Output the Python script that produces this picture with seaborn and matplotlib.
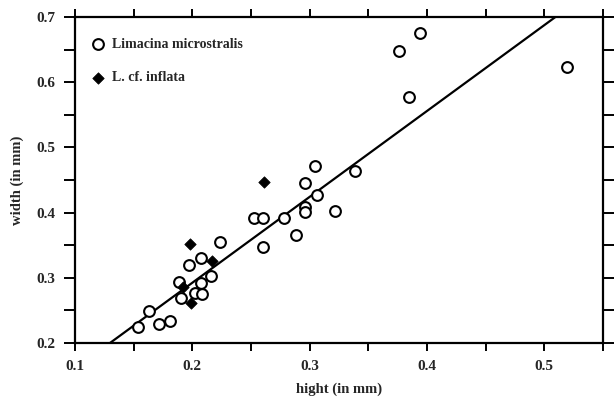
import numpy as np
import pandas as pd
import matplotlib
matplotlib.use("Agg")
import matplotlib.pyplot as plt
import seaborn as sns
from matplotlib.ticker import MultipleLocator

# ---- data ----
lim_h = [0.154, 0.163, 0.172, 0.181, 0.190, 0.189, 0.202, 0.208, 0.207, 0.216,
         0.197, 0.207, 0.224, 0.253, 0.260, 0.260, 0.278, 0.288, 0.296, 0.296,
         0.296, 0.306, 0.305, 0.322, 0.339, 0.376, 0.394, 0.385, 0.519]
lim_w = [0.225, 0.249, 0.229, 0.233, 0.269, 0.294, 0.276, 0.275, 0.292, 0.302,
         0.320, 0.330, 0.355, 0.392, 0.392, 0.348, 0.392, 0.365, 0.408, 0.401,
         0.445, 0.427, 0.471, 0.402, 0.464, 0.648, 0.675, 0.578, 0.623]
inf_h = [0.198, 0.217, 0.192, 0.199, 0.261]
inf_w = [0.352, 0.326, 0.286, 0.262, 0.447]
fit_slope = 1.317
fit_intercept = 0.029
x_ticks = [0.1, 0.2, 0.3, 0.4, 0.5]
y_ticks = [0.2, 0.3, 0.4, 0.5, 0.6, 0.7]
labels = ["Limacina microstralis", "L. cf. inflata"]

sns.set_style("white")
plt.rcParams["font.family"] = ["Liberation Serif", "DejaVu Serif"]
plt.rcParams["font.weight"] = "bold"

fig = plt.figure(figsize=(6.14, 4.0), dpi=100)
ax = fig.add_axes([0.1221, 0.1425, 0.8599, 0.815])

df1 = pd.DataFrame({"h": lim_h, "w": lim_w})
df2 = pd.DataFrame({"h": inf_h, "w": inf_w})

xmin, xmax = 0.1, 0.55
line_x = np.array([xmin, xmax])
df_line = pd.DataFrame({"h": line_x, "w": fit_slope * line_x + fit_intercept})
sns.lineplot(data=df_line, x="h", y="w", ax=ax, color="black", lw=1.6, zorder=1)

sns.scatterplot(data=df1, x="h", y="w", ax=ax, marker="o", s=60,
                facecolor="white", edgecolor="black", linewidth=1.5,
                label=labels[0], zorder=3)
sns.scatterplot(data=df2, x="h", y="w", ax=ax, marker="D", s=34,
                color="black", edgecolor="black", linewidth=0.5,
                label=labels[1], zorder=4)

ax.set_xlim(xmin, xmax)
ax.set_ylim(0.2, 0.7)
ax.set_xticks(x_ticks)
ax.set_yticks(y_ticks)
ax.xaxis.set_minor_locator(MultipleLocator(0.05))
ax.yaxis.set_minor_locator(MultipleLocator(0.05))
ax.set_xticklabels([f"{v:.1f}" for v in x_ticks])
ax.set_yticklabels([f"{v:.1f}" for v in y_ticks])

for s in ax.spines.values():
    s.set_visible(True)
    s.set_color("black")
    s.set_linewidth(1.6)

ax.tick_params(which="both", direction="out", top=True, right=True,
               bottom=True, left=True, color="black", width=1.4,
               labelsize=11, pad=6)
ax.tick_params(which="both", length=6)
ax.tick_params(axis="y", which="both", length=8)
ax.tick_params(axis="y", which="both", right=True, labelright=False)
for lab in ax.get_xticklabels() + ax.get_yticklabels():
    lab.set_fontweight("bold")

ax.set_xlabel("hight (in mm)", fontsize=10.5, fontweight="bold", labelpad=7)
ax.set_ylabel("width (in mm)", fontsize=10.5, fontweight="bold", labelpad=9)

leg = ax.legend(loc="upper left", frameon=False, fontsize=10,
                handletextpad=0.4, labelspacing=1.45, borderaxespad=0.3,
                bbox_to_anchor=(0.01, 0.965), handlelength=1.2)
for t in leg.get_texts():
    t.set_fontweight("bold")

fig.savefig("out.png", dpi=100)
